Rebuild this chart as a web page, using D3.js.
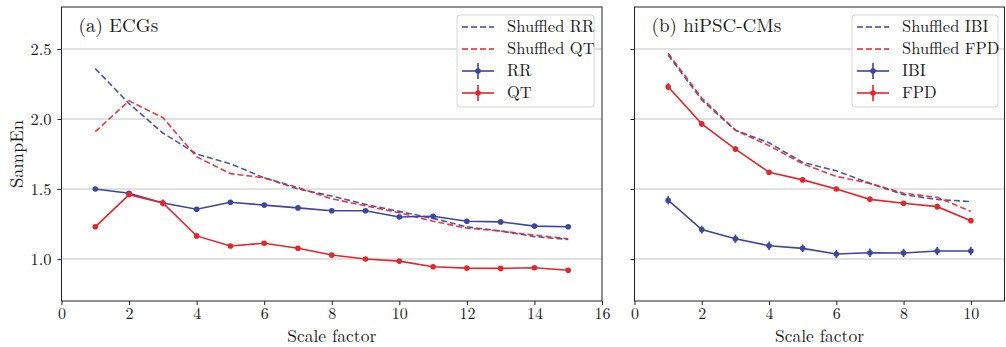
<!DOCTYPE html>
<html>
<head>
<meta charset="utf-8">
<script src="https://cdn.jsdelivr.net/npm/d3@7"></script>
<style>
  body { margin: 0; background: #fff; }
  svg text { font-family: "Latin Modern Roman", "Liberation Serif", serif; fill: #1a1a1a; }
</style>
</head>
<body>
<div id="chart"></div>
<script>
// (a) ECGs
const ecgScales = [1, 2, 3, 4, 5, 6, 7, 8, 9, 10, 11, 12, 13, 14, 15]
const shuffledRR = [2.36, 2.11, 1.90, 1.75, 1.68, 1.58, 1.50, 1.45, 1.39, 1.34, 1.29, 1.23, 1.20, 1.16, 1.14]
const shuffledQT = [1.91, 2.13, 2.01, 1.73, 1.61, 1.58, 1.51, 1.43, 1.38, 1.33, 1.27, 1.22, 1.20, 1.17, 1.145]
const rr = [1.50, 1.47, 1.40, 1.355, 1.405, 1.385, 1.365, 1.345, 1.345, 1.30, 1.305, 1.27, 1.265, 1.235, 1.23]
const rrErr = [0.015, 0.012, 0.015, 0.012, 0.012, 0.012, 0.01, 0.01, 0.012, 0.015, 0.015, 0.01, 0.01, 0.01, 0.01]
const qt = [1.23, 1.46, 1.40, 1.165, 1.093, 1.113, 1.077, 1.028, 1.0, 0.985, 0.945, 0.935, 0.933, 0.938, 0.92]
const qtErr = [0.012, 0.015, 0.025, 0.015, 0.01, 0.01, 0.01, 0.01, 0.008, 0.008, 0.008, 0.008, 0.008, 0.008, 0.008]

// (b) hiPSC-CMs
const cmScales = [1, 2, 3, 4, 5, 6, 7, 8, 9, 10]
const shuffledIBI = [2.457, 2.136, 1.92, 1.83, 1.69, 1.63, 1.54, 1.46, 1.425, 1.41]
const shuffledFPD = [2.47, 2.15, 1.92, 1.81, 1.68, 1.59, 1.54, 1.47, 1.44, 1.34]
const ibi = [1.42, 1.21, 1.145, 1.095, 1.076, 1.036, 1.045, 1.043, 1.057, 1.057]
const ibiErr = [0.03, 0.028, 0.03, 0.03, 0.028, 0.03, 0.03, 0.03, 0.03, 0.03]
const fpd = [2.23, 1.965, 1.785, 1.62, 1.565, 1.50, 1.426, 1.398, 1.374, 1.274]
const fpdErr = [0.025, 0.02, 0.02, 0.015, 0.015, 0.015, 0.02, 0.015, 0.02, 0.015]

const yTicks = [1.0, 1.5, 2.0, 2.5]

const blue = '#3c45a3'
const red = '#e3262b'
const font = '"Latin Modern Roman", "Liberation Serif", serif'

const width = 1006
const height = 347
const plotTop = 7
const plotBottom = 301

const svg = d3.select('#chart')
  .append('svg')
  .attr('width', width)
  .attr('height', height)

const y = d3.scaleLinear().domain([0.7, 2.8]).range([plotBottom, plotTop])

const drawPanel = ({ left, right, xMax, xTicks, title, showYLabels, series, legendX, legendW }) => {
  const x = d3.scaleLinear().domain([0, xMax]).range([left, right])
  const g = svg.append('g')

  // grid
  g.append('g')
    .selectAll('line')
    .data(yTicks)
    .enter()
    .append('line')
    .attr('x1', left)
    .attr('x2', right)
    .attr('y1', d => y(d))
    .attr('y2', d => y(d))
    .attr('stroke', '#c4c4c4')
    .attr('stroke-width', 1.2)

  // axes
  const xAxis = g.append('g')
    .attr('transform', `translate(0,${plotBottom})`)
    .call(d3.axisBottom(x).tickValues(xTicks).tickSize(4).tickPadding(3).tickFormat(d3.format('d')))
  const yAxis = g.append('g')
    .attr('transform', `translate(${left},0)`)
    .call(d3.axisLeft(y).tickValues(yTicks).tickSize(4).tickPadding(6)
      .tickFormat(showYLabels ? d3.format('.1f') : ''))
  ;[xAxis, yAxis].forEach(a => {
    a.attr('font-family', font)
    a.select('.domain').remove()
    a.selectAll('.tick line').attr('stroke', '#222').attr('stroke-width', 1)
    a.selectAll('.tick text').attr('font-size', 16.5).attr('fill', '#1a1a1a')
  })
  xAxis.selectAll('.tick text').attr('font-size', 16)

  // frame
  g.append('rect')
    .attr('x', left)
    .attr('y', plotTop)
    .attr('width', right - left)
    .attr('height', plotBottom - plotTop)
    .attr('fill', 'none')
    .attr('stroke', '#222')
    .attr('stroke-width', 1)

  const line = xs => d3.line().x((d, i) => x(xs[i])).y(d => y(d))

  series.forEach(s => {
    g.append('path')
      .datum(s.values)
      .attr('d', line(s.xs))
      .attr('fill', 'none')
      .attr('stroke', s.color)
      .attr('stroke-width', 1.6)
      .attr('stroke-dasharray', s.dashed ? '6,3' : null)
      .attr('opacity', s.dashed ? 0.9 : 1)

    if (s.err) {
      const pts = g.append('g')
        .selectAll('g')
        .data(s.values.map((v, i) => ({ x: s.xs[i], v, e: s.err[i] })))
        .enter()
        .append('g')
      pts.append('line')
        .attr('x1', d => x(d.x))
        .attr('x2', d => x(d.x))
        .attr('y1', d => y(d.v - d.e))
        .attr('y2', d => y(d.v + d.e))
        .attr('stroke', s.color)
        .attr('stroke-width', 1.6)
      pts.append('circle')
        .attr('cx', d => x(d.x))
        .attr('cy', d => y(d.v))
        .attr('r', 2.8)
        .attr('fill', s.color)
    }
  })

  // title
  g.append('text')
    .attr('x', left + 17)
    .attr('y', 32)
    .attr('font-size', 19)
    .text(title)

  // legend
  const lg = g.append('g').attr('transform', `translate(${legendX},15)`)
  lg.append('rect')
    .attr('width', legendW)
    .attr('height', 92)
    .attr('rx', 3)
    .attr('fill', 'rgba(255,255,255,0.8)')
    .attr('stroke', '#d6d6d6')
  series.forEach((s, i) => {
    const ly = 12 + i * 22
    lg.append('line')
      .attr('x1', 5)
      .attr('x2', 37)
      .attr('y1', ly)
      .attr('y2', ly)
      .attr('stroke', s.color)
      .attr('stroke-width', 1.6)
      .attr('stroke-dasharray', s.dashed ? '6,3' : null)
    if (!s.dashed) {
      lg.append('line')
        .attr('x1', 21).attr('x2', 21)
        .attr('y1', ly - 8).attr('y2', ly + 8)
        .attr('stroke', s.color)
        .attr('stroke-width', 1.6)
      lg.append('circle')
        .attr('cx', 21).attr('cy', ly).attr('r', 2.8).attr('fill', s.color)
    }
    lg.append('text')
      .attr('x', 50)
      .attr('y', ly + 5)
      .attr('font-size', 16.5)
      .text(s.label)
  })

  // x label
  g.append('text')
    .attr('x', (left + right) / 2)
    .attr('y', 341.5)
    .attr('text-anchor', 'middle')
    .attr('font-size', 17.5)
    .text('Scale factor')
}

drawPanel({
  left: 61.5,
  right: 602,
  xMax: 16,
  xTicks: [0, 2, 4, 6, 8, 10, 12, 14, 16],
  title: '(a) ECGs',
  showYLabels: true,
  legendX: 457,
  legendW: 137,
  series: [
    { label: 'Shuffled RR', xs: ecgScales, values: shuffledRR, color: blue, dashed: true },
    { label: 'Shuffled QT', xs: ecgScales, values: shuffledQT, color: red, dashed: true },
    { label: 'RR', xs: ecgScales, values: rr, err: rrErr, color: blue },
    { label: 'QT', xs: ecgScales, values: qt, err: qtErr, color: red }
  ]
})

drawPanel({
  left: 634.5,
  right: 1004.5,
  xMax: 11,
  xTicks: [0, 2, 4, 6, 8, 10],
  title: '(b) hiPSC-CMs',
  showYLabels: false,
  legendX: 852,
  legendW: 146,
  series: [
    { label: 'Shuffled IBI', xs: cmScales, values: shuffledIBI, color: blue, dashed: true },
    { label: 'Shuffled FPD', xs: cmScales, values: shuffledFPD, color: red, dashed: true },
    { label: 'IBI', xs: cmScales, values: ibi, err: ibiErr, color: blue },
    { label: 'FPD', xs: cmScales, values: fpd, err: fpdErr, color: red }
  ]
})

svg.append('text')
  .attr('transform', `translate(23,${(plotTop + plotBottom) / 2}) rotate(-90)`)
  .attr('text-anchor', 'middle')
  .attr('font-size', 18.5)
  .text('SampEn')
</script>
</body>
</html>
